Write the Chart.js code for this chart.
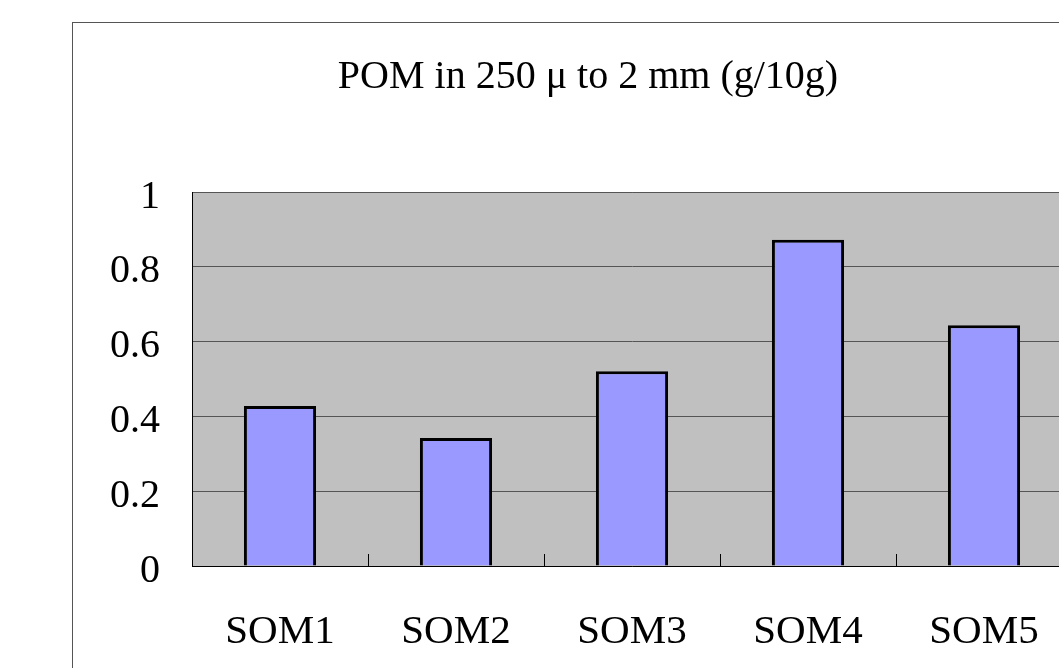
<!DOCTYPE html>
<html>
<head>
<meta charset="utf-8">
<script src="https://cdn.jsdelivr.net/npm/chart.js@4/dist/chart.umd.min.js"></script>
<style>
  html, body { margin: 0; padding: 0; background: #fff; overflow: hidden; }
  #frame { position: absolute; left: 72px; top: 22px; border: 1px solid #555; }
  canvas { display: block; }
</style>
</head>
<body>
<div id="frame"><canvas id="pom" width="1032" height="700"></canvas></div>
<script>
const categories = ['SOM1', 'SOM2', 'SOM3', 'SOM4', 'SOM5'];
const pomValues = [0.428, 0.342, 0.521, 0.872, 0.644];
const yTicks = [0, 0.2, 0.4, 0.6, 0.8, 1];

const serif = '"Liberation Serif", "Times New Roman", serif';

// grey plot area like the old Excel default
const plotBackground = {
    id: 'plotBackground',
    beforeDraw(chart) {
        const a = chart.chartArea;
        const ctx = chart.ctx;
        ctx.save();
        ctx.fillStyle = '#c0c0c0';
        ctx.fillRect(a.left, a.top, a.right - a.left, a.bottom - a.top);
        ctx.strokeStyle = '#808080';
        ctx.lineWidth = 1;
        ctx.beginPath();
        ctx.moveTo(a.left, a.top + 0.5);
        ctx.lineTo(a.right, a.top + 0.5);
        ctx.stroke();
        ctx.restore();
    }
};

new Chart(document.getElementById('pom'), {
    type: 'bar',
    data: {
        labels: categories,
        datasets: [{
            label: 'POM',
            data: pomValues,
            backgroundColor: '#9999ff',
            borderColor: '#000000',
            borderWidth: 3,
            barPercentage: 0.41,
            categoryPercentage: 1
        }]
    },
    options: {
        responsive: false,
        animation: false,
        layout: { padding: { left: 31, right: 33, top: 0, bottom: 0 } },
        plugins: {
            legend: { display: false },
            tooltip: { enabled: false },
            title: {
                display: true,
                text: 'POM in 250 μ to 2 mm (g/10g)',
                color: '#000',
                font: { family: serif, size: 40, weight: 'normal' },
                padding: { top: 30, bottom: 91 }
            }
        },
        scales: {
            x: {
                grid: {
                    drawOnChartArea: false,
                    drawTicks: true,
                    tickLength: -12,
                    color: '#000',
                    lineWidth: 1
                },
                border: { color: '#000', width: 1 },
                ticks: {
                    color: '#000',
                    font: { family: serif, size: 41 },
                    padding: 54
                },
                afterFit(scale) { scale.height = 157; }
            },
            y: {
                min: 0,
                max: 1,
                afterBuildTicks(scale) { scale.ticks = yTicks.map(v => ({ value: v })); },
                grid: { color: '#555', lineWidth: 1, drawTicks: false },
                border: { color: '#000', width: 1 },
                ticks: {
                    color: '#000',
                    font: { family: serif, size: 40 },
                    padding: 32,
                    labelOffset: 5,
                    callback: v => String(v)
                },
                afterFit(scale) { scale.width = 88; }
            }
        }
    },
    plugins: [plotBackground]
});
</script>
</body>
</html>
